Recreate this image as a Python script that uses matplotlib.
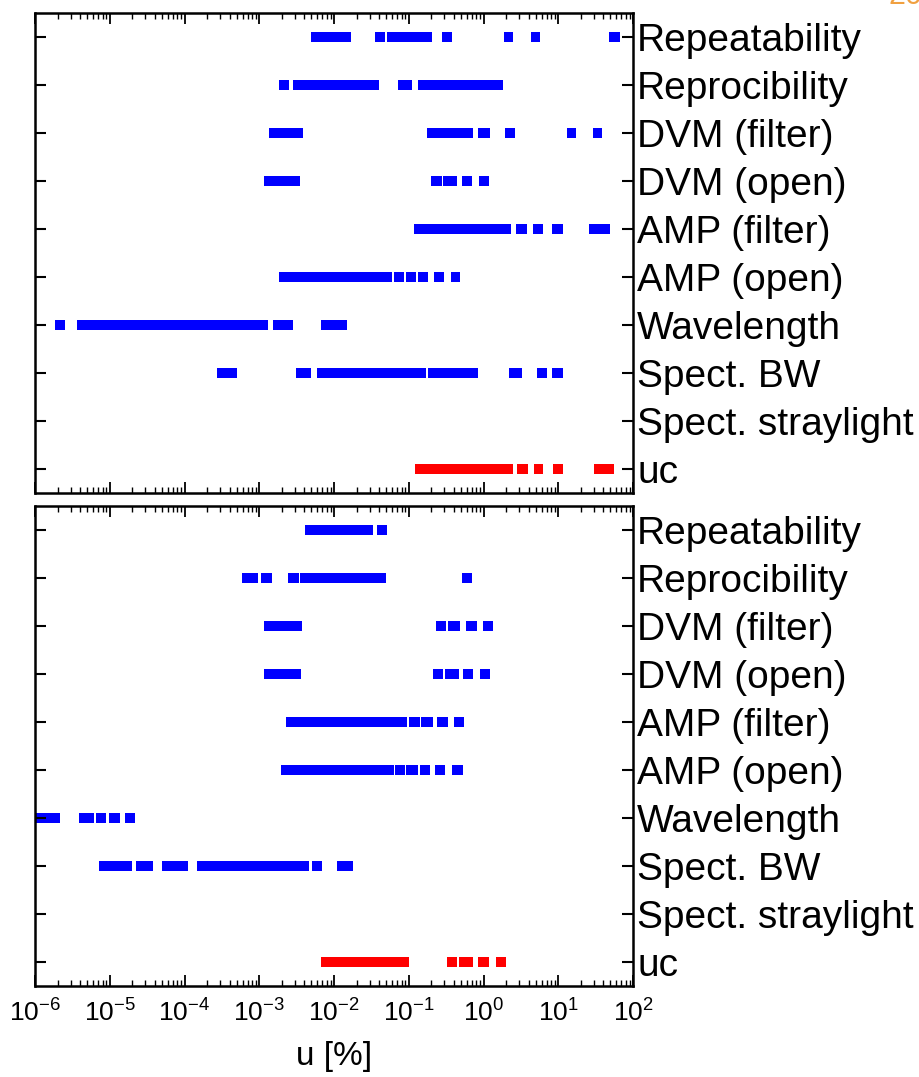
import matplotlib
matplotlib.use("Agg")
import matplotlib.pyplot as plt
from matplotlib.ticker import LogLocator, NullFormatter

plt.rcParams['font.family'] = ['Liberation Sans', 'DejaVu Sans']
plt.rcParams['mathtext.fontset'] = 'custom'
plt.rcParams['mathtext.rm'] = 'Liberation Sans'
plt.rcParams['mathtext.it'] = 'Liberation Sans:italic'
plt.rcParams['mathtext.bf'] = 'Liberation Sans:bold'
plt.rcParams['mathtext.sf'] = 'Liberation Sans'

categories = ["Repeatability", "Reprocibility", "DVM (filter)", "DVM (open)",
              "AMP (filter)", "AMP (open)", "Wavelength", "Spect. BW",
              "Spect. straylight", "uc"]

# blocks of u [%] covered by each contribution: (start, end)
top_repeatability = [(4.90e-3, 1.70e-2), (3.55e-2, 4.79e-2), (5.13e-2, 0.204),
                     (0.282, 0.380), (1.86, 2.45), (4.37, 5.75), (47.9, 66.1)]
top_reprocibility = [(1.86e-3, 2.51e-3), (2.82e-3, 3.98e-2), (7.08e-2, 0.112),
                     (0.132, 1.82)]
top_dvm_filter = [(1.35e-3, 3.89e-3), (0.178, 0.724), (0.832, 1.23),
                  (1.95, 2.63), (13.2, 17.4), (28.8, 38.9)]
top_dvm_open = [(1.17e-3, 3.55e-3), (0.200, 0.275), (0.288, 0.437),
                (0.513, 0.708), (0.871, 1.17)]
top_amp_filter = [(0.117, 2.34), (2.75, 3.80), (4.57, 6.31), (8.32, 11.5),
                  (25.7, 49.0)]
top_amp_open = [(1.86e-3, 6.03e-2), (6.31e-2, 8.51e-2), (9.12e-2, 0.126),
                (0.135, 0.182), (0.219, 0.295), (0.363, 0.490)]
top_wavelength = [(1.86e-6, 2.51e-6), (3.63e-6, 1.32e-3), (1.51e-3, 2.82e-3),
                  (6.76e-3, 1.51e-2)]
top_spect_bw = [(2.69e-4, 5.01e-4), (3.09e-3, 4.90e-3), (5.89e-3, 0.170),
                (0.182, 0.832), (2.19, 3.24), (5.13, 7.08), (8.13, 11.7)]
top_straylight = []
top_uc = [(0.123, 2.45), (2.82, 3.89), (4.68, 6.31), (8.51, 11.7), (30.2, 56.2)]

bot_repeatability = [(4.07e-3, 3.31e-2), (3.72e-2, 5.13e-2)]
bot_reprocibility = [(5.89e-4, 9.77e-4), (1.07e-3, 1.48e-3), (2.45e-3, 3.39e-3),
                     (3.55e-3, 4.90e-2), (0.513, 0.708)]
bot_dvm_filter = [(1.17e-3, 3.72e-3), (0.229, 0.316), (0.331, 0.490),
                  (0.575, 0.813), (0.977, 1.35)]
bot_dvm_open = [(1.17e-3, 3.63e-3), (0.209, 0.288), (0.302, 0.468),
                (0.537, 0.724), (0.891, 1.23)]
bot_amp_filter = [(2.29e-3, 9.55e-2), (0.100, 0.141), (0.148, 0.209),
                  (0.240, 0.331), (0.407, 0.550)]
bot_amp_open = [(1.95e-3, 6.31e-2), (6.46e-2, 8.91e-2), (9.33e-2, 0.132),
                (0.141, 0.195), (0.224, 0.309), (0.380, 0.537)]
bot_wavelength = [(7.94e-7, 2.19e-6), (3.89e-6, 6.17e-6), (6.46e-6, 8.91e-6),
                  (9.77e-6, 1.38e-5), (1.62e-5, 2.19e-5)]
bot_spect_bw = [(7.08e-6, 2.00e-5), (2.24e-5, 3.80e-5), (5.01e-5, 1.12e-4),
                (1.45e-4, 2.40e-3), (2.45e-3, 4.57e-3), (5.01e-3, 6.92e-3),
                (1.10e-2, 1.82e-2)]
bot_straylight = []
bot_uc = [(6.76e-3, 0.102), (0.324, 0.437), (0.468, 0.724), (0.851, 1.17),
          (1.45, 2.00)]

top_panel = [top_repeatability, top_reprocibility, top_dvm_filter, top_dvm_open,
             top_amp_filter, top_amp_open, top_wavelength, top_spect_bw,
             top_straylight, top_uc]
bot_panel = [bot_repeatability, bot_reprocibility, bot_dvm_filter, bot_dvm_open,
             bot_amp_filter, bot_amp_open, bot_wavelength, bot_spect_bw,
             bot_straylight, bot_uc]

BLUE = '#0000ff'
RED = '#ff0000'

fig = plt.figure(figsize=(9.19, 10.77), dpi=100)
W, H = 919, 1077
x0, x1 = 35 / W, 633 / W
ax_top = fig.add_axes([x0, 1 - 493 / H, x1 - x0, (493 - 13) / H])
ax_bot = fig.add_axes([x0, 1 - 986 / H, x1 - x0, (986 - 506) / H])


def draw(ax, panel, show_xlabels):
    for i, blocks in enumerate(panel):
        color = RED if categories[i] == 'uc' else BLUE
        for lo, hi in blocks:
            ax.barh(i, hi - lo, left=lo, height=0.225, color=color,
                    edgecolor='none')
    ax.set_xscale('log')
    ax.set_xlim(1e-6, 1e2)
    ax.set_ylim(9.5, -0.5)
    ax.set_yticks(range(len(categories)))
    ax.set_yticklabels(categories)
    ax.xaxis.set_major_locator(LogLocator(base=10, numticks=20))
    ax.xaxis.set_minor_locator(LogLocator(base=10, subs=range(2, 10), numticks=20))
    ax.xaxis.set_minor_formatter(NullFormatter())
    ax.tick_params(axis='y', which='both', direction='in', left=True, right=True,
                   labelleft=False, labelright=True, length=8, width=1.5,
                   labelsize=28, pad=3)
    ax.tick_params(axis='x', which='major', direction='in', top=True, bottom=True,
                   length=8, width=1.3, labelsize=19, labelbottom=show_xlabels,
                   pad=10)
    ax.tick_params(axis='x', which='minor', direction='in', top=True, bottom=True,
                   length=4, width=1.0)
    for s in ax.spines.values():
        s.set_linewidth(1.8)


draw(ax_top, top_panel, False)
draw(ax_bot, bot_panel, True)
ax_bot.set_xlabel('u [%]', fontsize=24, labelpad=10)

fig.text(888 / W, 1 - 4 / H, '20', color='#f0a040', fontsize=22,
         ha='left', va='baseline')

fig.savefig('out.png', dpi=100)
